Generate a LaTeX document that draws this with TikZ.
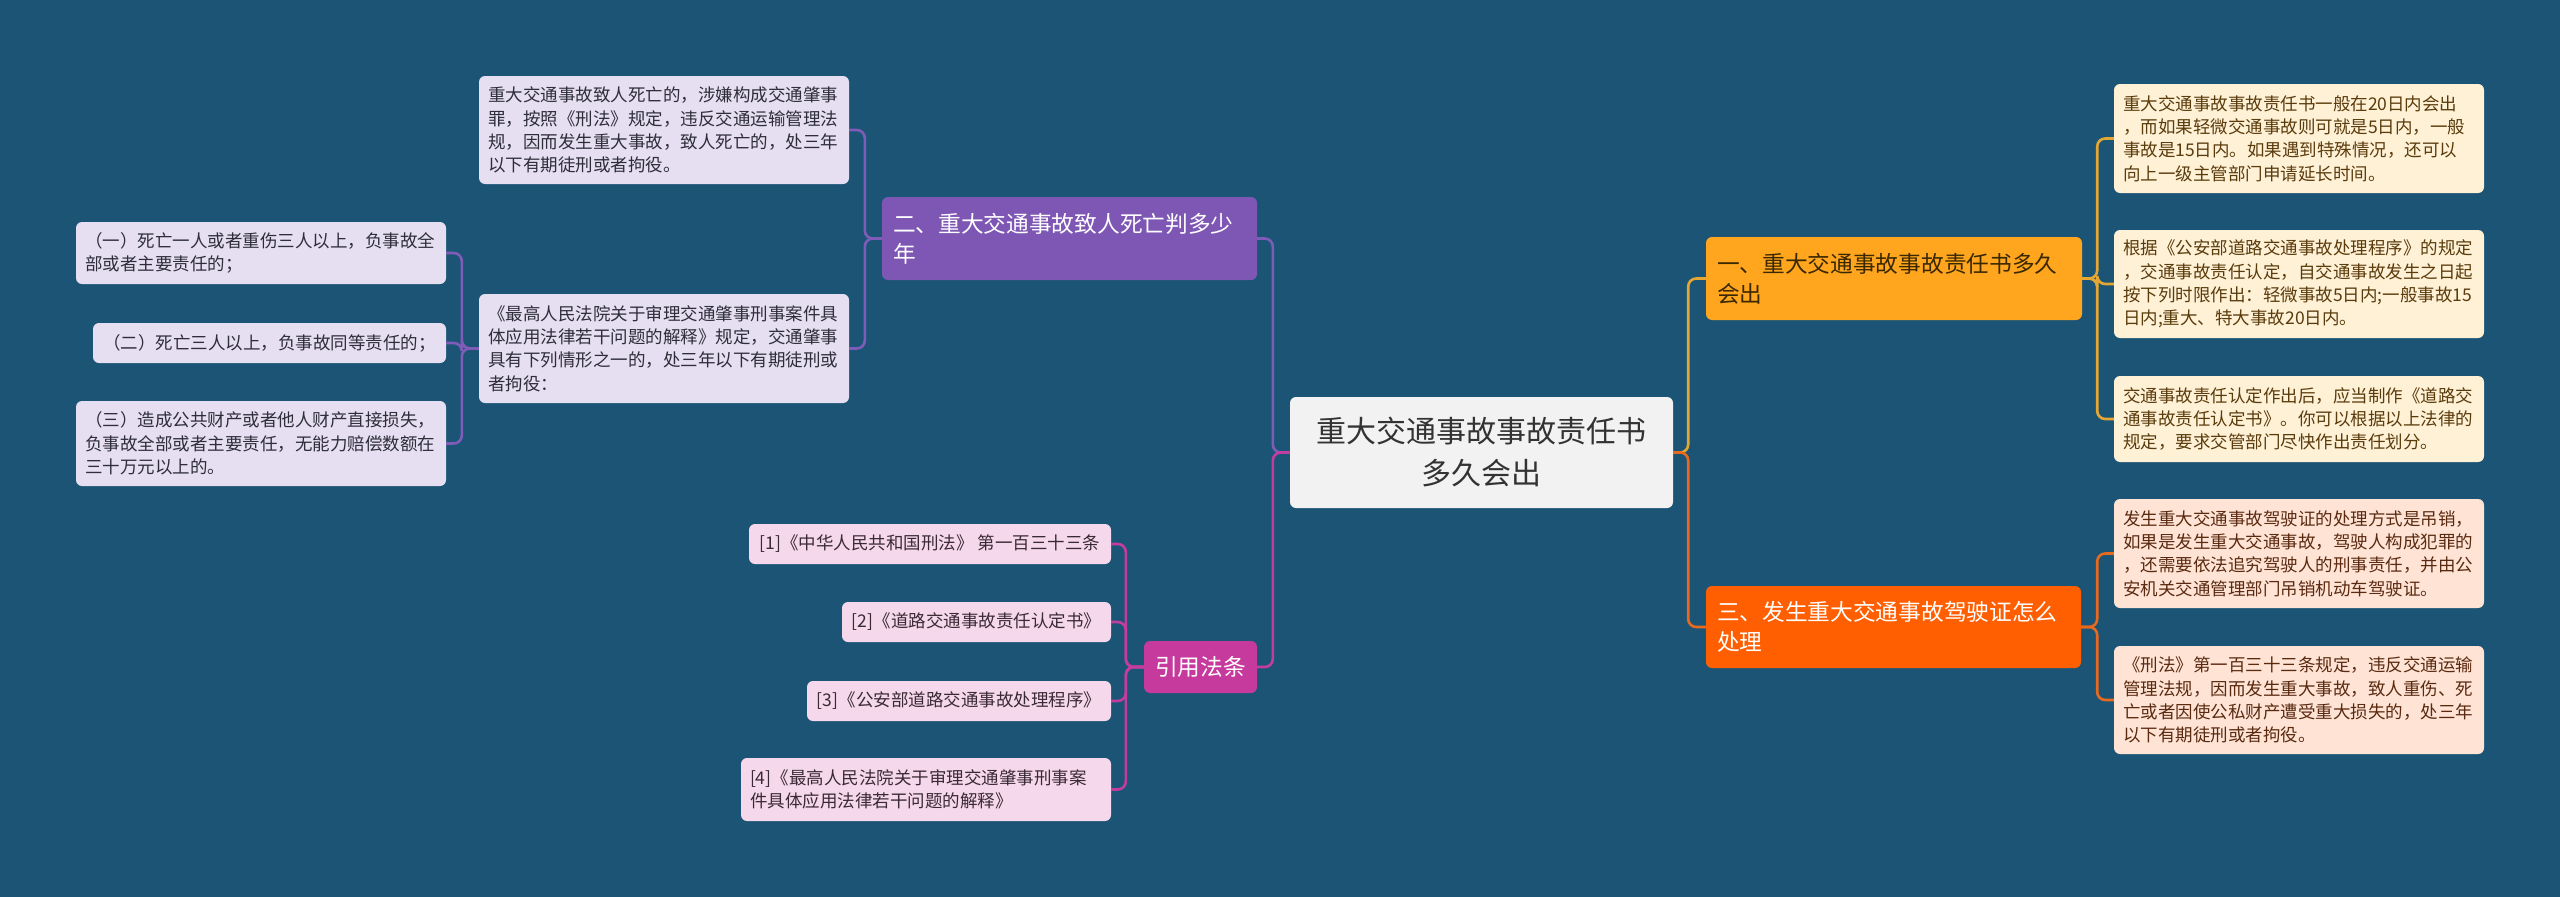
\documentclass[tikz,border=0pt]{standalone}
\usepackage{fontspec}
\setmainfont{Noto Sans CJK SC}
\definecolor{bgc}{HTML}{1B5475}
\definecolor{centerfill}{HTML}{F2F2F2}
\definecolor{centertext}{HTML}{333333}
\definecolor{yelfill}{HTML}{FFA51E}
\definecolor{yeltext}{HTML}{3A2800}
\definecolor{orgfill}{HTML}{FF5F00}
\definecolor{purfill}{HTML}{7E57B4}
\definecolor{magfill}{HTML}{C63A9E}
\definecolor{creamfill}{HTML}{FFF1D6}
\definecolor{creamtext}{HTML}{5A3B0C}
\definecolor{peachfill}{HTML}{FFE4D6}
\definecolor{peachtext}{HTML}{5A2A10}
\definecolor{lavfill}{HTML}{E6DEF1}
\definecolor{lavtext}{HTML}{2E2E3A}
\definecolor{pinkfill}{HTML}{F6D8EC}
\definecolor{pinktext}{HTML}{3A2A35}
\definecolor{yelline}{HTML}{E5A733}
\definecolor{orgline}{HTML}{E86A1E}
\definecolor{purline}{HTML}{7E5CB7}
\definecolor{magline}{HTML}{C33CA0}
\tikzset{
  box/.style={rounded corners=6pt, inner sep=0pt, draw=none},
  leaf/.style={box, font=\fontsize{17.5}{23.3}\selectfont, align=left},
  branch/.style={box, font=\fontsize{22.7}{30}\selectfont, align=left},
  creamleaf/.style={leaf, fill=creamfill, text=creamtext},
  peachleaf/.style={leaf, fill=peachfill, text=peachtext},
  lavleaf/.style={leaf, fill=lavfill, text=lavtext},
  pinkleaf/.style={leaf, fill=pinkfill, text=pinktext},
  conn/.style={line width=2.6pt, rounded corners=8pt},
}
\begin{document}
\begin{tikzpicture}[x=1pt,y=-1pt]
\fill[bgc] (0,0) rectangle (2560,897);
\useasboundingbox (0,0) rectangle (2560,897);

% center
\node[box, fill=centerfill, text=centertext, font=\fontsize{30}{42}\selectfont, align=center,
  minimum width=383pt, minimum height=111pt] (c) at (1481.5,452.5)
  {重大交通事故事故责任书\\多久会出};

% branches
\node[branch, fill=yelfill, text=yeltext, minimum width=376pt, minimum height=83pt, text width=354pt] (b1) at (1894,278.5)
  {一、重大交通事故事故责任书多久\\会出};
\node[branch, fill=orgfill, text=white, minimum width=375pt, minimum height=82pt, text width=353pt] (b3) at (1893.5,627)
  {三、发生重大交通事故驾驶证怎么\\处理};
\node[branch, fill=purfill, text=white, minimum width=375pt, minimum height=83pt, text width=353pt] (b2) at (1069.5,238.5)
  {二、重大交通事故致人死亡判多少\\年};
\node[branch, fill=magfill, text=white, align=center, minimum width=113pt, minimum height=52pt] (rf) at (1200.5,667)
  {引用法条};

% right leaves
\node[creamleaf, minimum width=370pt, minimum height=109pt, text width=352pt] (r1) at (2299,138.5)
  {重大交通事故事故责任书一般在20日内会出\\，而如果轻微交通事故则可就是5日内，一般\\事故是15日内。如果遇到特殊情况，还可以\\向上一级主管部门申请延长时间。};
\node[creamleaf, minimum width=370pt, minimum height=108pt, text width=352pt] (r2) at (2299,284)
  {根据《公安部道路交通事故处理程序》的规定\\，交通事故责任认定，自交通事故发生之日起\\按下列时限作出：轻微事故5日内;一般事故15\\日内;重大、特大事故20日内。};
\node[creamleaf, minimum width=370pt, minimum height=86pt, text width=352pt] (r3) at (2299,419)
  {交通事故责任认定作出后，应当制作《道路交\\通事故责任认定书》。你可以根据以上法律的\\规定，要求交管部门尽快作出责任划分。};
\node[peachleaf, minimum width=370pt, minimum height=109pt, text width=352pt] (r4) at (2299,553.5)
  {发生重大交通事故驾驶证的处理方式是吊销，\\如果是发生重大交通事故，驾驶人构成犯罪的\\，还需要依法追究驾驶人的刑事责任，并由公\\安机关交通管理部门吊销机动车驾驶证。};
\node[peachleaf, minimum width=370pt, minimum height=108pt, text width=352pt] (r5) at (2299,700)
  {《刑法》第一百三十三条规定，违反交通运输\\管理法规，因而发生重大事故，致人重伤、死\\亡或者因使公私财产遭受重大损失的，处三年\\以下有期徒刑或者拘役。};

% purple leaves
\node[lavleaf, minimum width=370pt, minimum height=108pt, text width=352pt] (pa) at (664,130)
  {重大交通事故致人死亡的，涉嫌构成交通肇事\\罪，按照《刑法》规定，违反交通运输管理法\\规，因而发生重大事故，致人死亡的，处三年\\以下有期徒刑或者拘役。};
\node[lavleaf, minimum width=370pt, minimum height=109pt, text width=352pt] (pb) at (664,348.5)
  {《最高人民法院关于审理交通肇事刑事案件具\\体应用法律若干问题的解释》规定，交通肇事\\具有下列情形之一的，处三年以下有期徒刑或\\者拘役：};
\node[lavleaf, minimum width=370pt, minimum height=62pt, text width=352pt] (c1) at (261,253)
  {（一）死亡一人或者重伤三人以上，负事故全\\部或者主要责任的；};
\node[lavleaf, align=center, minimum width=353pt, minimum height=40pt] (c2) at (269.5,343)
  {（二）死亡三人以上，负事故同等责任的；};
\node[lavleaf, minimum width=370pt, minimum height=85pt, text width=352pt] (c3) at (261,443.5)
  {（三）造成公共财产或者他人财产直接损失，\\负事故全部或者主要责任，无能力赔偿数额在\\三十万元以上的。};

% references
\node[pinkleaf, align=center, minimum width=362pt, minimum height=40pt] (q1) at (930,544)
  {[1]《中华人民共和国刑法》 第一百三十三条};
\node[pinkleaf, align=center, minimum width=269pt, minimum height=40pt] (q2) at (976.5,622)
  {[2]《道路交通事故责任认定书》};
\node[pinkleaf, align=center, minimum width=304pt, minimum height=40pt] (q3) at (959,701)
  {[3]《公安部道路交通事故处理程序》};
\node[pinkleaf, minimum width=370pt, minimum height=63pt, text width=352pt] (q4) at (926,789.5)
  {[4]《最高人民法院关于审理交通肇事刑事案\\件具体应用法律若干问题的解释》};

% connectors: center
\draw[conn, yelline] (c.east) -- ++(15,0) |- (b1.west);
\draw[conn, orgline] (c.east) -- ++(15,0) |- (b3.west);
\draw[conn, purline] (c.west) -- ++(-17,0) |- (b2.east);
\draw[conn, magline] (c.west) -- ++(-17,0) |- (rf.east);

% b1 group
\foreach \t in {r1,r2,r3}
  \draw[conn, yelline] (b1.east) -- ++(15,0) |- (\t.west);
% b3 group
\foreach \t in {r4,r5}
  \draw[conn, orgline] (b3.east) -- ++(16,0) |- (\t.west);
% b2 group
\foreach \t in {pa,pb}
  \draw[conn, purline] (b2.west) -- ++(-17,0) |- (\t.east);
% pb group
\foreach \t in {c1,c2,c3}
  \draw[conn, purline] (pb.west) -- ++(-17,0) |- (\t.east);
% references
\foreach \t in {q1,q2,q3,q4}
  \draw[conn, magline] (rf.west) -- ++(-18,0) |- (\t.east);
\end{tikzpicture}
\end{document}
